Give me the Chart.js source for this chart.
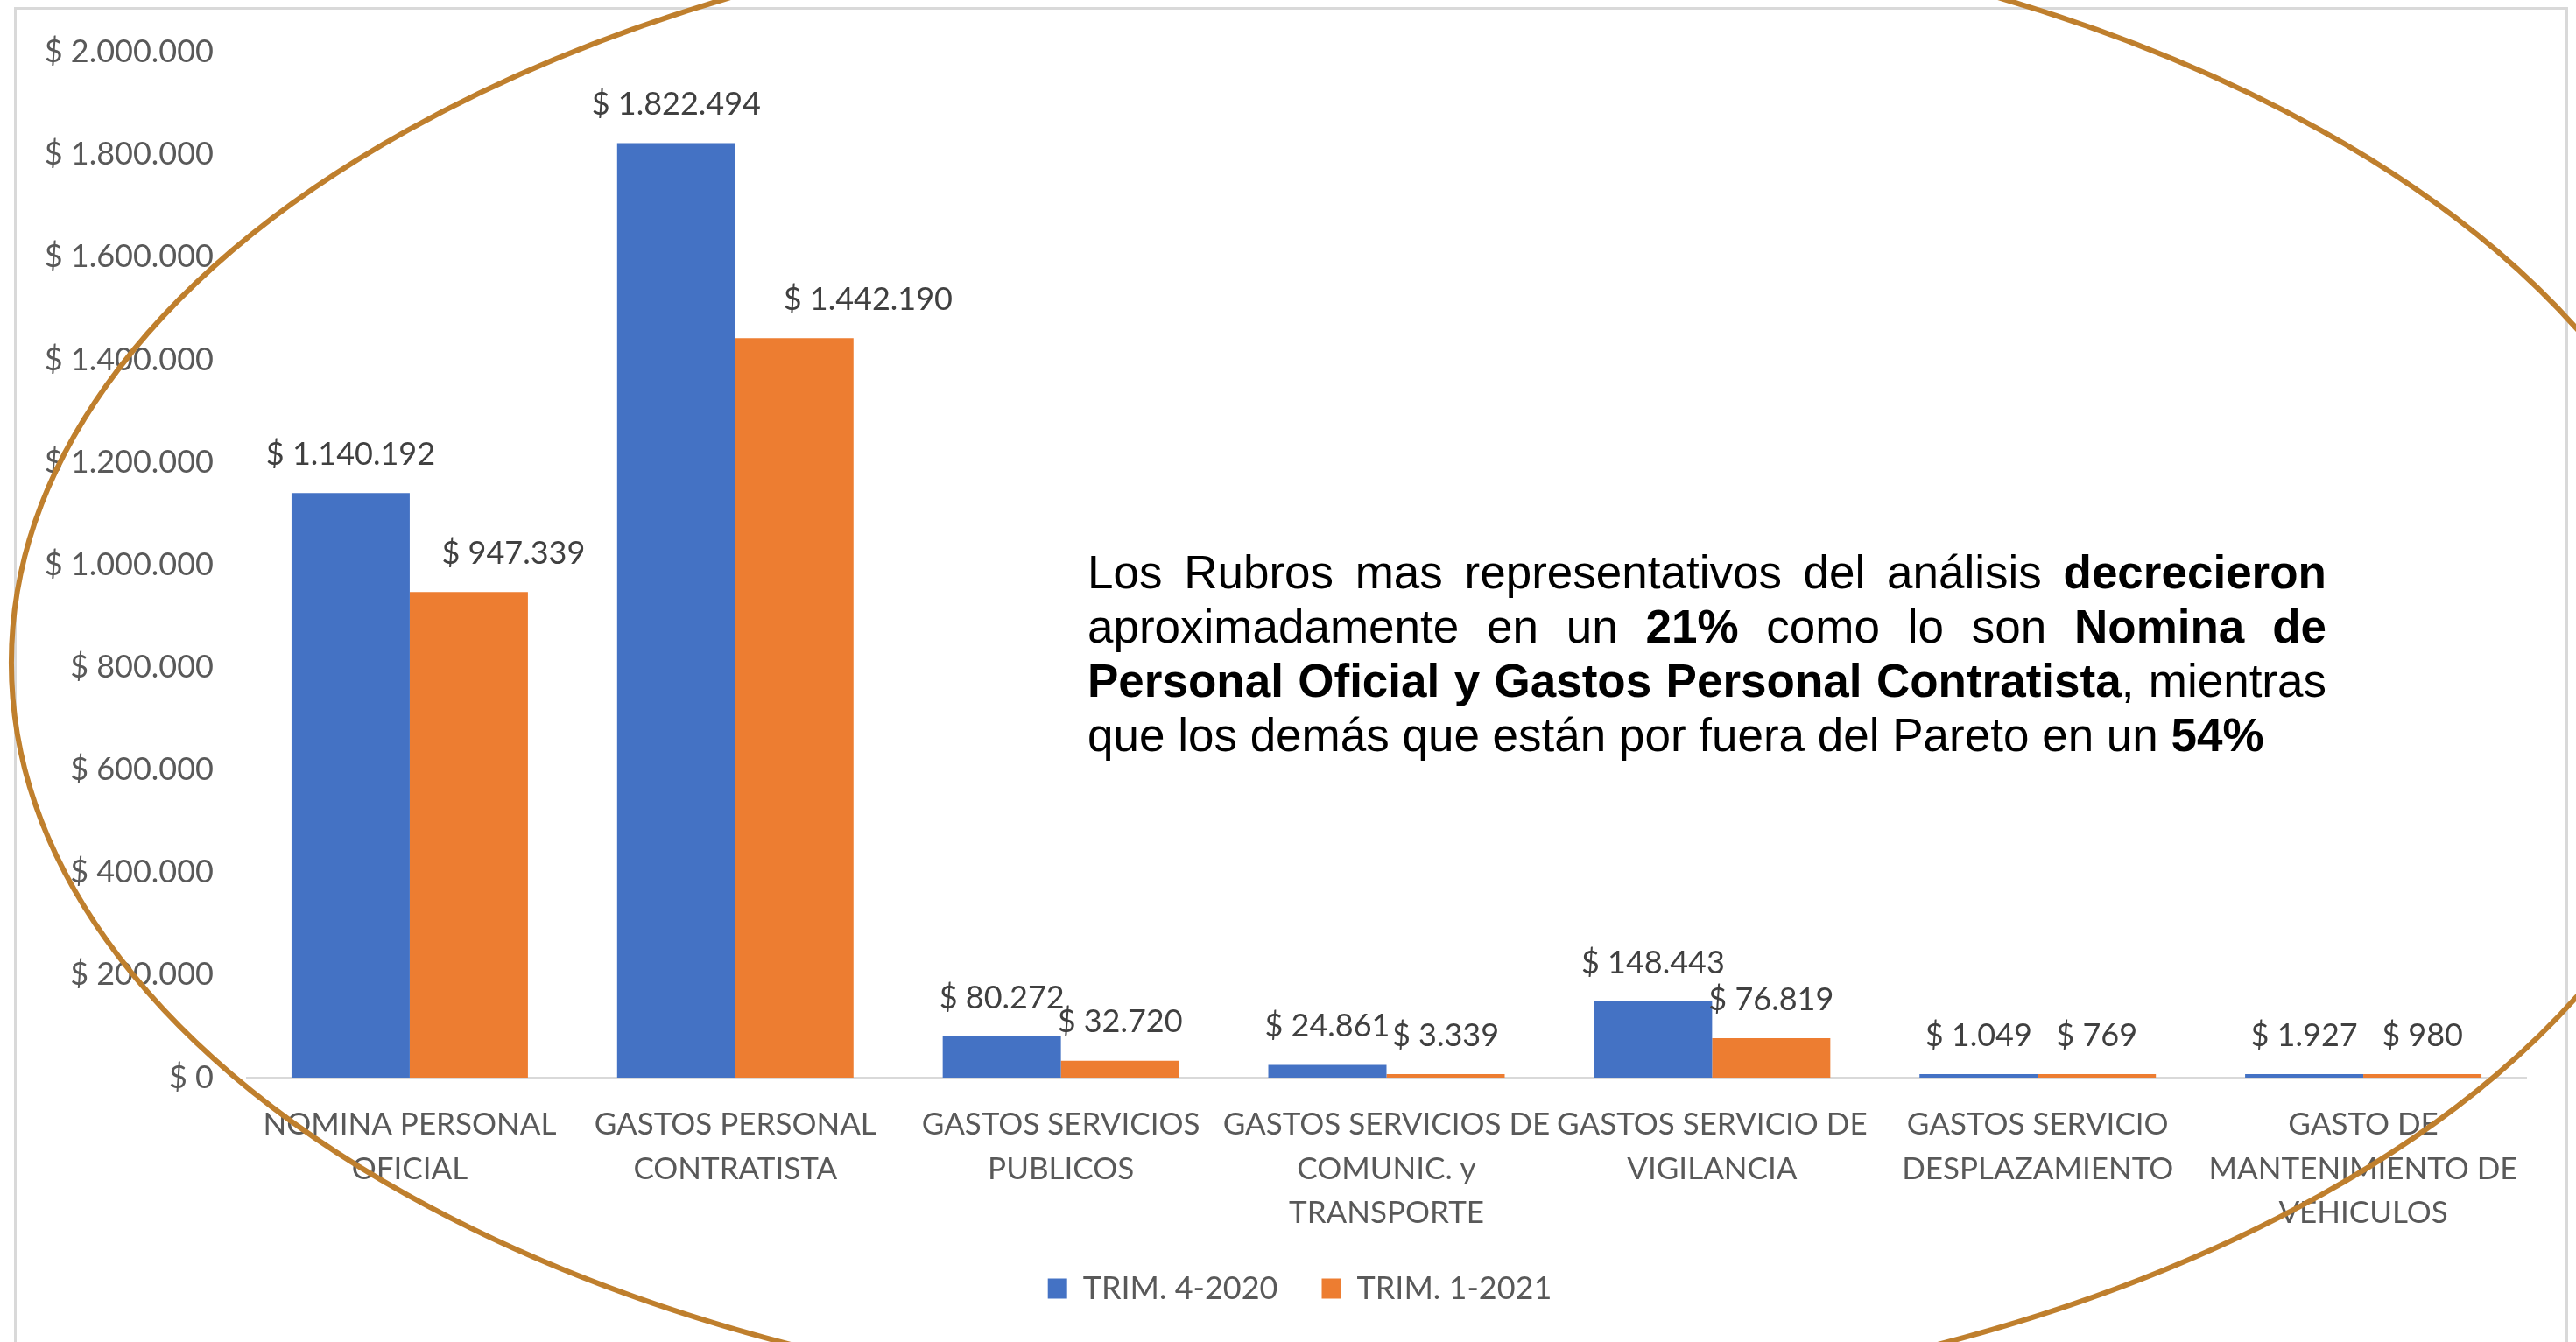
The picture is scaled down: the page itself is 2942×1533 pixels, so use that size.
<!DOCTYPE html>
<html lang="es">
<head>
<meta charset="utf-8">
<title>Rubros TRIM. 4-2020 vs TRIM. 1-2021</title>
<script src="https://cdn.jsdelivr.net/npm/chart.js@4.4.1/dist/chart.umd.min.js"></script>
<style>
  html, body { margin: 0; padding: 0; background: #fff; overflow: hidden; }
  #wrap { position: relative; width: 2942px; height: 1533px; }
  #nota {
    position: absolute; left: 1242px; top: 623px; width: 1415px;
    font-family: "Liberation Sans", Arial, sans-serif; font-size: 53px; line-height: 62px; color: #000;
  }
  #nota span { display: block; text-align: justify; text-align-last: justify; }
  #nota span.last { text-align-last: left; }
</style>
</head>
<body>
<div id="wrap">
  <canvas id="rubros"></canvas>
  <div id="nota">
    <span>Los Rubros mas representativos del análisis <b>decrecieron</b></span>
    <span>aproximadamente en un <b>21%</b> como lo son <b>Nomina de</b></span>
    <span><b>Personal Oficial y Gastos Personal Contratista</b>, mientras</span>
    <span class="last">que los demás que están por fuera del Pareto en un <b>54%</b></span>
  </div>
</div>
<script>
// --- Datos ---
const rubros = [
  ['NOMINA PERSONAL', 'OFICIAL'],
  ['GASTOS PERSONAL', 'CONTRATISTA'],
  ['GASTOS SERVICIOS', 'PUBLICOS'],
  ['GASTOS SERVICIOS DE', 'COMUNIC. y', 'TRANSPORTE'],
  ['GASTOS SERVICIO DE', 'VIGILANCIA'],
  ['GASTOS SERVICIO', 'DESPLAZAMIENTO'],
  ['GASTO DE', 'MANTENIMIENTO DE', 'VEHICULOS']
];
const trim4_2020 = [1140192, 1822494, 80272, 24861, 148443, 1049, 1927];
const trim1_2021 = [947339, 1442190, 32720, 3339, 76819, 769, 980];
const ejeMax = 2000000;
const ejePaso = 200000;

// en el original dos etiquetas naranjas estaban corridas a mano hacia la derecha
const corrimientoNaranja = [51, 84, 0, 0, 0, 0, 0];

const FONT = 'Lato, "Open Sans", sans-serif';

// $ 1.822.494
function pesos(n) {
  return '$ ' + String(Math.round(n)).replace(/\B(?=(\d{3})+(?!\d))/g, '.');
}

// etiquetas de valor encima de cada barra
const etiquetasValor = {
  id: 'etiquetasValor',
  afterDatasetsDraw(chart) {
    const ctx = chart.ctx;
    ctx.save();
    ctx.font = '36px ' + FONT;
    ctx.fillStyle = '#404040';
    ctx.textAlign = 'center';
    ctx.textBaseline = 'middle';
    chart.data.datasets.forEach((ds, i) => {
      chart.getDatasetMeta(i).data.forEach((bar, j) => {
        const dx = i === 1 ? corrimientoNaranja[j] : 0;
        ctx.fillText(pesos(ds.data[j]), bar.x + dx, bar.y - 44);
      });
    });
    ctx.restore();
  }
};

// fondo, marco gris y el óvalo marrón encima
const marcoYOvalo = {
  id: 'marcoYOvalo',
  afterLayout(chart) {
    // la leyenda queda centrada como en el original
    chart.legend.left += 84;
  },
  beforeDraw(chart) {
    const ctx = chart.ctx;
    ctx.save();
    ctx.fillStyle = '#fff';
    ctx.fillRect(0, 0, chart.width, chart.height);
    ctx.restore();
  },
  afterDraw(chart) {
    const ctx = chart.ctx;
    const w = chart.width, h = chart.height;
    ctx.save();
    ctx.strokeStyle = '#D9D9D9';
    ctx.lineWidth = 3;
    ctx.strokeRect(17.5, 9.5, w - 28, h + 20);
    ctx.strokeStyle = '#BF7F2D';
    ctx.lineWidth = 6;
    ctx.beginPath();
    ctx.ellipse(w * 0.5296, h * 0.4938, w * 0.5252, h * 0.561, 0, 0, Math.PI * 2);
    ctx.stroke();
    ctx.restore();
  }
};

new Chart(document.getElementById('rubros'), {
  type: 'bar',
  data: {
    labels: rubros,
    datasets: [
      { label: 'TRIM. 4-2020', data: trim4_2020, backgroundColor: '#4472C4', borderWidth: 0 },
      { label: 'TRIM. 1-2021', data: trim1_2021, backgroundColor: '#ED7D31', borderWidth: 0 }
    ]
  },
  options: {
    responsive: true,
    maintainAspectRatio: false,
    animation: false,
    categoryPercentage: 0.726,
    barPercentage: 1.0,
    minBarLength: 4,
    layout: { padding: { left: 0, right: 57, top: 56, bottom: 33 } },
    scales: {
      x: {
        grid: { display: false, drawTicks: false },
        border: { display: true, color: '#D9D9D9', width: 2 },
        ticks: {
          color: '#595959',
          font: { family: FONT, size: 35, lineHeight: 1.44 },
          padding: 29,
          autoSkip: false,
          maxRotation: 0,
          minRotation: 0
        },
        afterFit(scale) { scale.height = 173; }
      },
      y: {
        min: 0,
        max: ejeMax,
        grid: { display: false, drawTicks: false },
        border: { display: false },
        ticks: {
          stepSize: ejePaso,
          color: '#595959',
          font: { family: FONT, size: 36 },
          padding: 38,
          callback: v => pesos(v)
        },
        afterFit(scale) { scale.width = 282; }
      }
    },
    plugins: {
      legend: {
        position: 'bottom',
        labels: {
          color: '#595959',
          font: { family: FONT, size: 36 },
          boxWidth: 22,
          boxHeight: 23,
          padding: 50
        }
      },
      tooltip: { enabled: false }
    }
  },
  plugins: [etiquetasValor, marcoYOvalo]
});
</script>
</body>
</html>
